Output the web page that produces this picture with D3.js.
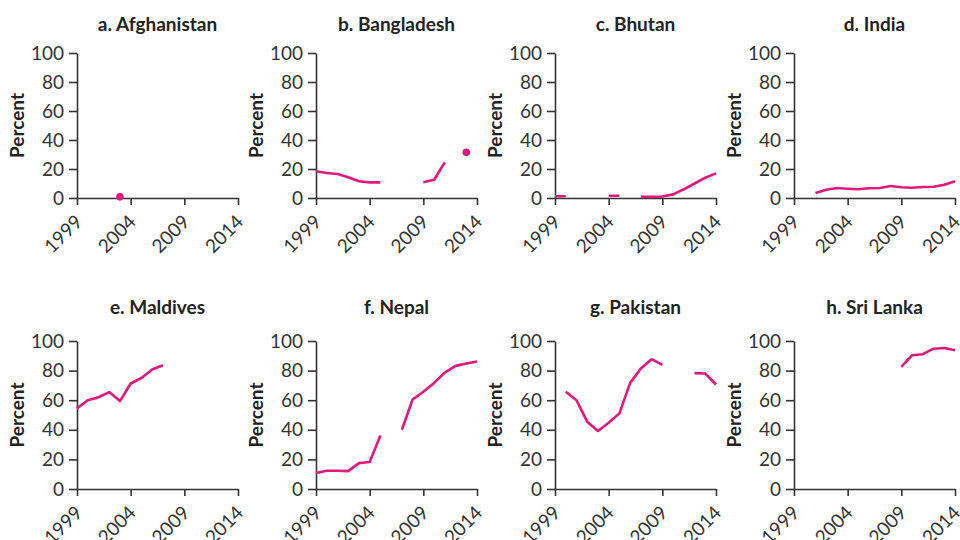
<html>
<head><meta charset="utf-8"></head>
<style>
  html, body { margin: 0; background: #fff; }
  svg { display: block; font-family: Lato, "Open Sans", sans-serif; }
</style>
<body>
<svg width="960" height="540"></svg>
<script src="https://cdnjs.cloudflare.com/ajax/libs/d3/7.8.5/d3.min.js"></script>
<script>
  // years shared by all panels
  const years = [1999, 2000, 2001, 2002, 2003, 2004, 2005, 2006, 2007, 2008, 2009, 2010, 2011, 2012, 2013, 2014];
  const yearTicks = [1999, 2004, 2009, 2014];
  const percentTicks = [0, 20, 40, 60, 80, 100];

  const titles = ["a. Afghanistan", "b. Bangladesh", "c. Bhutan", "d. India",
                  "e. Maldives", "f. Nepal", "g. Pakistan", "h. Sri Lanka"];

  // percent values, null = no data
  const afghanistan = [null, null, null, null, 0.8, null, null, null, null, null, null, null, null, null, null, null];
  const bangladesh = [18.4, 17.2, 16.5, 14.3, 11.5, 10.8, 10.8, null, null, null, 10.8, 12.6, 24.6, null, 31.5, null];
  const bhutan = [1.2, 1.2, null, null, null, 1.6, 1.5, null, 0.8, 0.8, 1.0, 2.5, 6, 10, 14, 17];
  const india = [null, null, 3.4, 5.7, 6.9, 6.4, 6.0, 6.7, 6.9, 8.3, 7.4, 7.1, 7.6, 7.8, 9.2, 11.5];
  const maldives = [54.5, 60, 62, 65.5, 59.4, 71.3, 75, 80.7, 83.6, null, null, null, null, null, null, null];
  const nepal = [10.8, 12.3, 12.3, 12.1, 17.5, 18.2, 36.1, null, 40, 60.5, 65.7, 71.7, 78.7, 83.2, 84.8, 86.1];
  const pakistan = [null, 65.7, 60, 45.5, 39.2, 44.8, 51.1, 71.7, 81.4, 87.7, 83.9, null, null, 78.3, 78, 70.6];
  const sriLanka = [null, null, null, null, null, null, null, null, null, null, 82.5, 90.4, 91.1, 94.8, 95.3, 93.7];

  const series = [afghanistan, bangladesh, bhutan, india, maldives, nepal, pakistan, sriLanka];

  const svg = d3.select("svg");
  const pink = "#e2187f";
  const ink = "#333";

  // layout of the 4x2 grid
  const plotW = 161;
  const rows = [{top: 53, bottom: 198, titleY: 31}, {top: 341, bottom: 489, titleY: 314}];

  series.forEach((vals, i) => {
    const col = i % 4, row = rows[Math.floor(i / 4)];
    const left = 77 + col * 239;

    const x = d3.scaleLinear().domain([1999, 2014]).range([0, plotW]);
    const y = d3.scaleLinear().domain([0, 100]).range([row.bottom - row.top, 0]);

    const g = svg.append("g").attr("transform", `translate(${left},${row.top})`);

    // title
    g.append("text")
      .attr("x", plotW / 2).attr("y", row.titleY - row.top)
      .attr("text-anchor", "middle")
      .attr("font-size", 19).attr("font-weight", 700).attr("fill", "#222")
      .text(titles[i]);

    // y label
    g.append("text")
      .attr("transform", `translate(-53,${y(50)}) rotate(-90)`)
      .attr("text-anchor", "middle")
      .attr("font-size", 19).attr("font-weight", 700).attr("fill", "#222")
      .text("Percent");

    // axes
    const yAxis = g.append("g")
      .call(d3.axisLeft(y).tickValues(percentTicks).tickSize(8).tickSizeOuter(0).tickPadding(5));
    const xAxis = g.append("g").attr("transform", `translate(0,${y(0)})`)
      .call(d3.axisBottom(x).tickValues(yearTicks).tickFormat(d3.format("d")).tickSize(7).tickSizeOuter(0));

    [yAxis, xAxis].forEach(a => {
      a.select(".domain").attr("stroke", ink).attr("stroke-width", 1.6);
      a.selectAll(".tick line").attr("stroke", ink).attr("stroke-width", 1.6);
      a.selectAll("text").attr("font-size", 19).attr("fill", ink).attr("font-family", "Lato, sans-serif");
    });
    xAxis.selectAll("text")
      .attr("text-anchor", "end")
      .attr("y", 0).attr("dy", 0)
      .attr("transform", "translate(6,25) rotate(-45)");

    // line with gaps
    const pts = years.map((yr, k) => ({yr, v: vals[k]}));
    const line = d3.line().defined(d => d.v != null).x(d => x(d.yr)).y(d => y(d.v));
    g.append("path").datum(pts)
      .attr("d", line)
      .attr("fill", "none").attr("stroke", pink).attr("stroke-width", 2.6)
      .attr("stroke-linejoin", "round");

    // isolated points as dots
    const lone = pts.filter((d, k) => d.v != null &&
      (k === 0 || vals[k - 1] == null) && (k === vals.length - 1 || vals[k + 1] == null));
    g.selectAll("circle").data(lone).join("circle")
      .attr("cx", d => x(d.yr)).attr("cy", d => y(d.v)).attr("r", 3.8)
      .attr("fill", pink);
  });
</script>
</body>
</html>
